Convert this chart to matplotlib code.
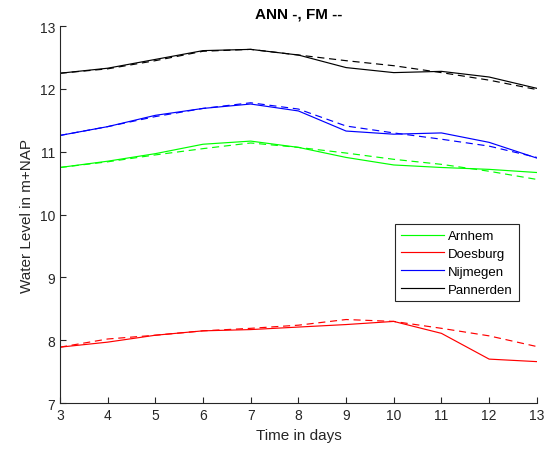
import matplotlib
matplotlib.use("Agg")
import matplotlib.pyplot as plt

# data (hari 3..13)
days = [3, 4, 5, 6, 7, 8, 9, 10, 11, 12, 13]

arnhem_ann = [10.75, 10.85, 10.97, 11.12, 11.17, 11.07, 10.91, 10.79, 10.75, 10.72, 10.67]
arnhem_fm = [10.75, 10.84, 10.95, 11.05, 11.14, 11.07, 10.98, 10.88, 10.80, 10.69, 10.56]

doesburg_ann = [7.89, 7.97, 8.08, 8.15, 8.17, 8.21, 8.25, 8.30, 8.11, 7.70, 7.66]
doesburg_fm = [7.89, 8.02, 8.08, 8.15, 8.19, 8.24, 8.33, 8.30, 8.19, 8.07, 7.90]

nijmegen_ann = [11.26, 11.40, 11.58, 11.69, 11.76, 11.65, 11.33, 11.28, 11.30, 11.15, 10.90]
nijmegen_fm = [11.26, 11.40, 11.56, 11.69, 11.78, 11.68, 11.41, 11.30, 11.20, 11.09, 10.91]

pannerden_ann = [12.25, 12.33, 12.47, 12.61, 12.63, 12.54, 12.34, 12.26, 12.28, 12.19, 12.01]
pannerden_fm = [12.25, 12.32, 12.45, 12.60, 12.63, 12.54, 12.45, 12.37, 12.26, 12.14, 11.99]

names = ["Arnhem", "Doesburg", "Nijmegen", "Pannerden"]
warna = ["#00ff00", "#ff0000", "#0000ff", "#000000"]

plt.rcParams['font.family'] = ['Liberation Sans', 'DejaVu Sans']

fig = plt.figure(figsize=(5.5, 4.52), dpi=100)
ax = fig.add_axes([0.109, 0.106, 0.867, 0.834])

ann = [arnhem_ann, doesburg_ann, nijmegen_ann, pannerden_ann]
fm = [arnhem_fm, doesburg_fm, nijmegen_fm, pannerden_fm]

for nama, c, a, f in zip(names, warna, ann, fm):
    ax.plot(days, a, color=c, lw=0.85, label=nama)
    ax.plot(days, f, color=c, lw=0.85, ls=(0, (6, 4)))

ax.set_xlim(3, 13)
ax.set_ylim(7, 13)
ax.set_xticks(range(3, 14))
ax.set_yticks(range(7, 14))
# gaya matlab "box off": cuma sumbu kiri dan bawah
ax.spines['top'].set_visible(False)
ax.spines['right'].set_visible(False)
ax.tick_params(direction='in', labelsize=10, colors='#262626', length=4)
for s in ax.spines.values():
    s.set_color('#262626')
    s.set_linewidth(0.8)

ax.set_xlabel("Time in days", fontsize=11, color='#262626')
ax.set_ylabel("Water Level in m+NAP", fontsize=11, color='#262626')
ax.set_title("ANN -, FM --", fontsize=11, fontweight='bold')

leg = ax.legend(loc='upper left', bbox_to_anchor=(0.702, 0.475), borderaxespad=0,
                fancybox=False, fontsize=9.5, handlelength=3.25, borderpad=0.45,
                labelspacing=0.42, handletextpad=0.35, framealpha=1)
leg.get_frame().set_edgecolor('#262626')
leg.get_frame().set_linewidth(0.8)

fig.savefig("out.png", dpi=100)
